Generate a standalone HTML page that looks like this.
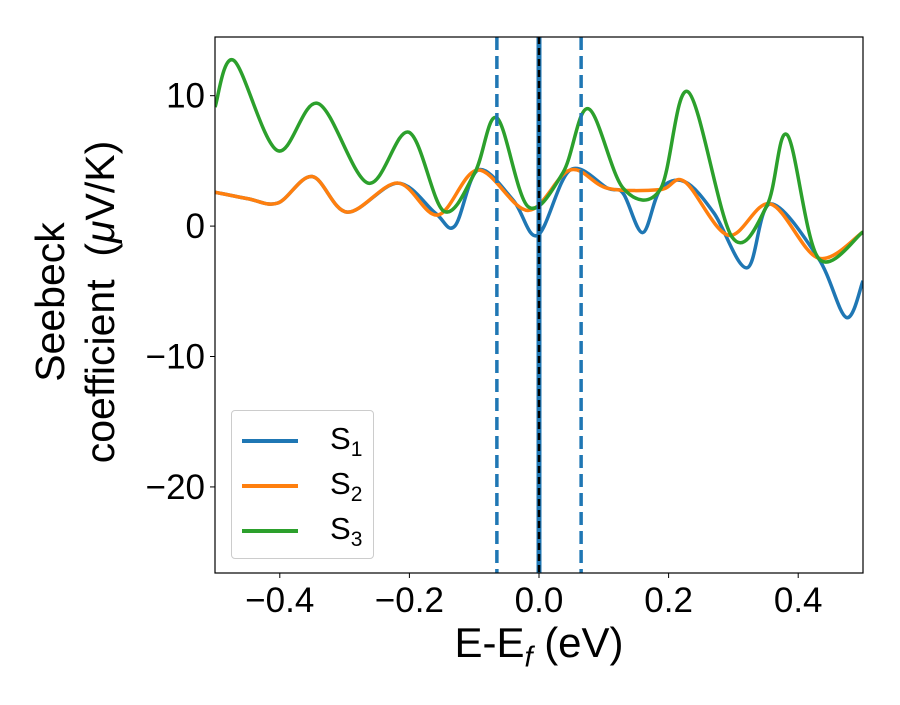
<!DOCTYPE html>
<html><head><meta charset="utf-8"><style>body{margin:0;background:#fff}svg text{font-family:"Liberation Sans","DejaVu Sans",sans-serif}</style></head>
<body>
<svg id="c" width="900" height="700" xmlns="http://www.w3.org/2000/svg"></svg>
<script>
const xTicks=[-0.4,-0.2,0.0,0.2,0.4];
const xTickLabels=["\u22120.4","\u22120.2","0.0","0.2","0.4"];
const yTicks=[10,0,-10,-20];
const yTickLabels=["10","0","\u221210","\u221220"];
const s1x=[-0.5,-0.449,-0.403,-0.35,-0.296,-0.218,-0.16,-0.13,-0.094,-0.04,-0.002,0.048,0.106,0.13,0.16,0.187,0.225,0.27,0.321,0.357,0.431,0.474,0.5];
const s1y=[2.6,2.1,1.77,3.8,1.07,3.3,1.0,0.0,4.3,2.0,-0.7,4.3,2.9,2.5,-0.5,2.8,3.4,1.0,-3.2,1.7,-2.45,-7.0,-4.2];
const s2x=[-0.5,-0.449,-0.403,-0.35,-0.296,-0.218,-0.156,-0.094,-0.017,0.048,0.106,0.187,0.225,0.292,0.357,0.431,0.5];
const s2y=[2.6,2.1,1.77,3.8,1.07,3.3,0.85,4.3,1.2,4.3,2.9,2.8,3.4,-0.7,1.7,-2.45,-0.45];
const s3x=[-0.5,-0.471,-0.404,-0.341,-0.264,-0.201,-0.147,-0.099,-0.065,-0.017,0.037,0.076,0.13,0.187,0.23,0.298,0.352,0.383,0.431,0.5];
const s3y=[9.13,12.7,5.8,9.4,3.3,7.2,1.15,4.1,8.3,1.5,4.1,9.0,2.9,2.8,10.3,-0.85,1.6,7.0,-2.45,-0.45];
const vDashed=[-0.065,0.065];
const svg=document.getElementById('c');const NS='http://www.w3.org/2000/svg';
const L=215,R=863,T=37,B=573,xmin=-0.5,xmax=0.5,ymin=-26.6,ymax=14.5;
const X=v=>L+(v-xmin)/(xmax-xmin)*(R-L);
const Y=v=>B-(v-ymin)/(ymax-ymin)*(B-T);
function el(t,a,p){const e=document.createElementNS(NS,t);for(const k in a)e.setAttribute(k,a[k]);(p||svg).appendChild(e);return e;}
const clip=el('clipPath',{id:'cl'});el('rect',{x:L,y:T,width:R-L,height:B-T},clip);
function path(xs,ys){const p=xs.map((x,i)=>[X(x),Y(ys[i])]);let d='M'+p[0][0]+','+p[0][1];
for(let i=0;i<p.length-1;i++){const p0=p[Math.max(0,i-1)],p1=p[i],p2=p[i+1],p3=p[Math.min(p.length-1,i+2)];
d+=' C'+(p1[0]+(p2[0]-p0[0])/6)+','+(p1[1]+(p2[1]-p0[1])/6)+' '+(p2[0]-(p3[0]-p1[0])/6)+','+(p2[1]-(p3[1]-p1[1])/6)+' '+p2[0]+','+p2[1];}return d;}
const g=el('g',{'clip-path':'url(#cl)'});
const series=[[s1x,s1y,'#1f77b4','series-s1'],[s2x,s2y,'#ff7f0e','series-s2'],[s3x,s3y,'#2ca02c','series-s3']];
for(let k=0;k<3;k++){const s=series[k];const e=el('path',{d:path(s[0],s[1]),fill:'none',stroke:s[2],'stroke-width':3.5},g);

}
vDashed.forEach(v=>{const e=el('line',{x1:X(v),x2:X(v),y1:T,y2:B,stroke:'#1f77b4','stroke-width':3.5,'stroke-dasharray':'13,6'},g);

});
let e=el('line',{x1:X(0),x2:X(0),y1:T,y2:B,stroke:'#1f77b4','stroke-width':5},g);


e=el('line',{x1:X(0),x2:X(0),y1:T,y2:B,stroke:'#000','stroke-width':2.5,'stroke-dasharray':'7,4'},g);


e=el('rect',{x:L,y:T,width:R-L,height:B-T,fill:'none',stroke:'#000','stroke-width':1.2});


xTicks.forEach((v,i)=>{el('line',{x1:X(v),x2:X(v),y1:B,y2:B+5,stroke:'#000'});
const t=el('text',{x:X(v),y:B+39,'font-size':35,'text-anchor':'middle'});t.textContent=xTickLabels[i];

});
yTicks.forEach((v,i)=>{el('line',{x1:L-5,x2:L,y1:Y(v),y2:Y(v),stroke:'#000'});
const t=el('text',{x:L-10,y:Y(v)+12,'font-size':35,'text-anchor':'end'});t.textContent=yTickLabels[i];

});
</script>
<div style="position:absolute;left:539px;top:619px;transform:translateX(-50%);font:42px 'Liberation Sans',sans-serif;white-space:nowrap;line-height:48px">E-E<sub style="font-size:29px;font-style:italic;line-height:0">f</sub> (eV)</div>
<div style="position:absolute;left:75px;top:302px;transform:translate(-50%,-50%) rotate(-90deg);font:41px/50px 'Liberation Sans',sans-serif;white-space:nowrap;text-align:center">Seebeck<br>coefficient&nbsp; (<i>μ</i>V/K)</div>
<div style="position:absolute;left:231px;top:410px;width:141px;height:147px;border:1px solid #ccc;border-radius:4px;background:#fff;font:31px 'Liberation Sans',sans-serif">
<div style="position:absolute;left:10px;top:10px;height:36px;line-height:36px;white-space:nowrap"><span style="width:56px;height:4px;background:#1f77b4;display:inline-block;margin-right:32px;vertical-align:middle"></span>S<sub style="font-size:21px;line-height:0">1</sub></div>
<div style="position:absolute;left:10px;top:55px;height:36px;line-height:36px;white-space:nowrap"><span style="width:56px;height:4px;background:#ff7f0e;display:inline-block;margin-right:32px;vertical-align:middle"></span>S<sub style="font-size:21px;line-height:0">2</sub></div>
<div style="position:absolute;left:10px;top:100px;height:36px;line-height:36px;white-space:nowrap"><span style="width:56px;height:4px;background:#2ca02c;display:inline-block;margin-right:32px;vertical-align:middle"></span>S<sub style="font-size:21px;line-height:0">3</sub></div>
</div>
</body></html>
